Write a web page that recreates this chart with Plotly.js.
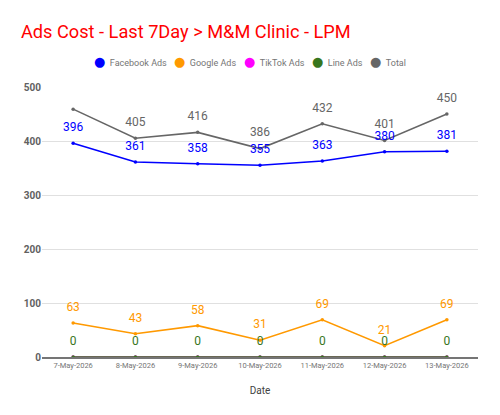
<!DOCTYPE html>
<html>
<head>
<meta charset="utf-8">
<script src="https://cdn.plot.ly/plotly-3.0.1.min.js"></script>
<style>html,body{margin:0;padding:0;background:#fff;}#chart{width:500px;height:415px;}</style>
</head>
<body>
<div id="chart"></div>
<script>
const dates = ["7-May-2026","8-May-2026","9-May-2026","10-May-2026","11-May-2026","12-May-2026","13-May-2026"];
const facebookAds = [396, 361, 358, 355, 363, 380, 381];
const googleAds = [63, 43, 58, 31, 69, 21, 69];
const tiktokAds = [0, 0, 0, 0, 0, 0, 0];
const lineAds = [0, 0, 0, 0, 0, 0, 0];
const total = [459, 405, 416, 386, 432, 401, 450];
const totalLabels = ["", "405", "416", "386", "432", "401", "450"];

const seriesNames = ["Facebook Ads", "Google Ads", "TikTok Ads", "Line Ads", "Total"];
const seriesColors = ["#0000ff", "#ff9900", "#ff00ff", "#38761d", "#666666"];
const legendPx = [54, 134, 204, 272, 330];

function line(y, color) {
  return {
    x: dates, y: y, type: "scatter", mode: "lines+markers",
    line: {color: color, width: 1.6}, marker: {color: color, size: 3.5},
    showlegend: false, cliponaxis: false, hoverinfo: "skip"
  };
}
function labels(y, color, text) {
  return {
    x: dates, y: y, type: "scatter", mode: "markers+text",
    marker: {color: color, size: 13, opacity: 0},
    text: text, textposition: "top center", textfont: {family: "Roboto", size: 12, color: color},
    showlegend: false, cliponaxis: false, hoverinfo: "skip"
  };
}

const traces = [
  line(tiktokAds, seriesColors[2]),
  line(lineAds, seriesColors[3]),
  line(googleAds, seriesColors[1]),
  line(total, seriesColors[4]),
  line(facebookAds, seriesColors[0]),
  labels(lineAds, seriesColors[3], lineAds.map(String)),
  labels(googleAds, seriesColors[1], googleAds.map(String)),
  labels(total, seriesColors[4], totalLabels),
  labels(facebookAds, seriesColors[0], facebookAds.map(String))
];
const layout = {
  width: 500, height: 415,
  margin: {l: 42, r: 22, t: 87, b: 58},
  paper_bgcolor: "#fff", plot_bgcolor: "#fff",
  font: {family: "Roboto", color: "#616161"},
  title: {text: "Ads Cost - Last 7Day > M&M Clinic - LPM", font: {family: "Roboto", size: 18.2, color: "#ff0000"},
    x: 21/500, xanchor: "left", xref: "container", y: 1 - 32/415, yanchor: "middle", yref: "container"},
  xaxis: {type: "category", range: [-0.5, 6.5], showgrid: false, zeroline: false,
    showline: true, linecolor: "#757575", linewidth: 1.5,
    tickfont: {family: "Roboto", size: 7.5, color: "#757575"}, ticks: "",
    title: {text: "Date", font: {family: "Roboto", size: 10, color: "#424242"}, standoff: 18}},
  yaxis: {range: [0, 500], tickvals: [0, 100, 200, 300, 400, 500], showgrid: true, gridcolor: "#e0e0e0",
    gridwidth: 1, zeroline: false, showline: false,
    tickfont: {family: "Roboto", size: 10, color: "#616161", weight: "bold"}, ticks: ""},
  showlegend: true
};
seriesNames.forEach((n, i) => {
  const key = i === 0 ? "legend" : "legend" + (i + 1);
  traces.push({x: [null], y: [null], type: "scatter", mode: "markers",
    name: '<span style="color:' + seriesColors[i] + ';font-size:13px;font-family:DejaVu Sans">\u25CF</span>\u00a0\u00a0' + n,
    marker: {color: "rgba(0,0,0,0)", size: 1, line: {width: 0, color: "rgba(0,0,0,0)"}},
    showlegend: true, legend: key});
  layout[key] = {x: (legendPx[i] - 42) / 436, xanchor: "left", y: (357 - 62) / 270, yanchor: "middle",
    font: {family: "Roboto", size: 9, color: "#757575"}, bgcolor: "rgba(0,0,0,0)", borderwidth: 0};
});
Plotly.newPlot("chart", traces, layout, {displayModeBar: false, staticPlot: true});
</script>
</body>
</html>
